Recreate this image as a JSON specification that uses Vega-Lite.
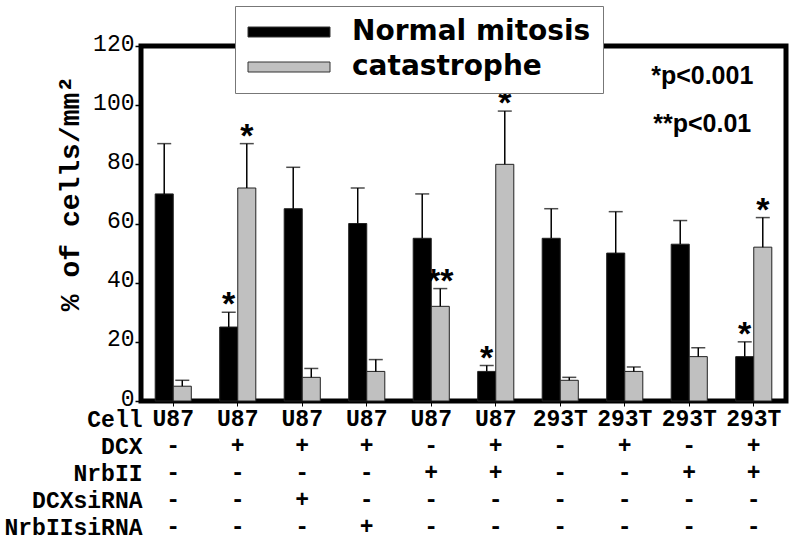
{
  "$schema": "https://vega.github.io/schema/vega-lite/v6.json",
  "width": 645,
  "height": 355,
  "autosize": {"type": "none"},
  "padding": {"left": 141, "top": 46, "right": 14, "bottom": 139},
  "background": "white",
  "config": {
    "view": {"stroke": "black", "strokeWidth": 5},
    "axis": {"grid": false}
  },
  "datasets": {
    "bars": [
      {"grp": 1, "series": "Normal mitosis", "value": 70, "hi": 87, "star": ""},
      {"grp": 1, "series": "catastrophe", "value": 5, "hi": 7, "star": ""},
      {"grp": 2, "series": "Normal mitosis", "value": 25, "hi": 30, "star": "*"},
      {"grp": 2, "series": "catastrophe", "value": 72, "hi": 87, "star": "*"},
      {"grp": 3, "series": "Normal mitosis", "value": 65, "hi": 79, "star": ""},
      {"grp": 3, "series": "catastrophe", "value": 8, "hi": 11, "star": ""},
      {"grp": 4, "series": "Normal mitosis", "value": 60, "hi": 72, "star": ""},
      {"grp": 4, "series": "catastrophe", "value": 10, "hi": 14, "star": ""},
      {"grp": 5, "series": "Normal mitosis", "value": 55, "hi": 70, "star": ""},
      {"grp": 5, "series": "catastrophe", "value": 32, "hi": 38, "star": "**"},
      {"grp": 6, "series": "Normal mitosis", "value": 10, "hi": 12, "star": "*"},
      {"grp": 6, "series": "catastrophe", "value": 80, "hi": 98, "star": "*"},
      {"grp": 7, "series": "Normal mitosis", "value": 55, "hi": 65, "star": ""},
      {"grp": 7, "series": "catastrophe", "value": 7, "hi": 8, "star": ""},
      {"grp": 8, "series": "Normal mitosis", "value": 50, "hi": 64, "star": ""},
      {"grp": 8, "series": "catastrophe", "value": 10, "hi": 11.5, "star": ""},
      {"grp": 9, "series": "Normal mitosis", "value": 53, "hi": 61, "star": ""},
      {"grp": 9, "series": "catastrophe", "value": 15, "hi": 18, "star": ""},
      {"grp": 10, "series": "Normal mitosis", "value": 15, "hi": 20, "star": "*"},
      {"grp": 10, "series": "catastrophe", "value": 52, "hi": 62, "star": "*"}
    ],
    "notes": [
      {"grp": 9, "y": 110, "label": "*p<0.001"},
      {"grp": 9, "y": 93.5, "label": "**p<0.01"}
    ],
    "table": [
      {"grp": 1, "row": "Cell", "t": "U87"}, {"grp": 2, "row": "Cell", "t": "U87"},
      {"grp": 3, "row": "Cell", "t": "U87"}, {"grp": 4, "row": "Cell", "t": "U87"},
      {"grp": 5, "row": "Cell", "t": "U87"}, {"grp": 6, "row": "Cell", "t": "U87"},
      {"grp": 7, "row": "Cell", "t": "293T"}, {"grp": 8, "row": "Cell", "t": "293T"},
      {"grp": 9, "row": "Cell", "t": "293T"}, {"grp": 10, "row": "Cell", "t": "293T"},
      {"grp": 1, "row": "DCX", "t": "-"}, {"grp": 2, "row": "DCX", "t": "+"},
      {"grp": 3, "row": "DCX", "t": "+"}, {"grp": 4, "row": "DCX", "t": "+"},
      {"grp": 5, "row": "DCX", "t": "-"}, {"grp": 6, "row": "DCX", "t": "+"},
      {"grp": 7, "row": "DCX", "t": "-"}, {"grp": 8, "row": "DCX", "t": "+"},
      {"grp": 9, "row": "DCX", "t": "-"}, {"grp": 10, "row": "DCX", "t": "+"},
      {"grp": 1, "row": "NrbII", "t": "-"}, {"grp": 2, "row": "NrbII", "t": "-"},
      {"grp": 3, "row": "NrbII", "t": "-"}, {"grp": 4, "row": "NrbII", "t": "-"},
      {"grp": 5, "row": "NrbII", "t": "+"}, {"grp": 6, "row": "NrbII", "t": "+"},
      {"grp": 7, "row": "NrbII", "t": "-"}, {"grp": 8, "row": "NrbII", "t": "-"},
      {"grp": 9, "row": "NrbII", "t": "+"}, {"grp": 10, "row": "NrbII", "t": "+"},
      {"grp": 1, "row": "DCXsiRNA", "t": "-"}, {"grp": 2, "row": "DCXsiRNA", "t": "-"},
      {"grp": 3, "row": "DCXsiRNA", "t": "+"}, {"grp": 4, "row": "DCXsiRNA", "t": "-"},
      {"grp": 5, "row": "DCXsiRNA", "t": "-"}, {"grp": 6, "row": "DCXsiRNA", "t": "-"},
      {"grp": 7, "row": "DCXsiRNA", "t": "-"}, {"grp": 8, "row": "DCXsiRNA", "t": "-"},
      {"grp": 9, "row": "DCXsiRNA", "t": "-"}, {"grp": 10, "row": "DCXsiRNA", "t": "-"},
      {"grp": 1, "row": "NrbIIsiRNA", "t": "-"}, {"grp": 2, "row": "NrbIIsiRNA", "t": "-"},
      {"grp": 3, "row": "NrbIIsiRNA", "t": "-"}, {"grp": 4, "row": "NrbIIsiRNA", "t": "+"},
      {"grp": 5, "row": "NrbIIsiRNA", "t": "-"}, {"grp": 6, "row": "NrbIIsiRNA", "t": "-"},
      {"grp": 7, "row": "NrbIIsiRNA", "t": "-"}, {"grp": 8, "row": "NrbIIsiRNA", "t": "-"},
      {"grp": 9, "row": "NrbIIsiRNA", "t": "-"}, {"grp": 10, "row": "NrbIIsiRNA", "t": "-"}
    ]
  },
  "encoding": {
    "x": {
      "field": "grp", "type": "ordinal",
      "scale": {"paddingInner": 0.44, "paddingOuter": 0.22},
      "axis": {"labels": false, "domain": false, "ticks": true, "tickSize": 5, "tickColor": "black", "tickWidth": 1, "title": null}
    }
  },
  "layer": [
    {
      "data": {"name": "bars"},
      "encoding": {
        "xOffset": {"field": "series", "type": "nominal", "sort": ["Normal mitosis", "catastrophe"], "scale": {"paddingInner": 0, "paddingOuter": 0}}
      },
      "layer": [
        {
          "mark": {"type": "bar", "stroke": "#222", "strokeWidth": 1},
          "encoding": {
            "y": {
              "field": "value", "type": "quantitative",
              "scale": {"domain": [0, 120], "nice": false},
              "axis": {
                "values": [0, 20, 40, 60, 80, 100, 120],
                "domain": false, "tickSize": 6, "tickWidth": 1.5, "tickColor": "black",
                "labelFont": "Liberation Mono", "labelFontSize": 23, "labelColor": "black", "labelPadding": 1, "labelOffset": -3,
                "title": "% of  cells/mm²", "titleFont": "Liberation Mono", "titleFontSize": 28,
                "titleFontWeight": "bold", "titleColor": "black",
                "titleX": -71, "titleY": 147, "titleAngle": -90, "titleAlign": "center", "titleBaseline": "middle"
              }
            },
            "color": {
              "field": "series", "type": "nominal",
              "scale": {"domain": ["Normal mitosis", "catastrophe"], "range": ["black", "#c0c0c0"]},
              "legend": {
                "title": null, "orient": "none", "legendX": 94, "legendY": -40,
                "fillColor": "white", "strokeColor": "#777", "padding": 12,
                "symbolType": "M-2.6,-1H13.8V1H-2.6Z", "symbolSize": 100,
                "symbolStrokeColor": "#333", "symbolStrokeWidth": 1,
                "labelOffset": 77, "labelFont": "DejaVu Sans", "labelFontSize": 28,
                "labelFontWeight": "bold", "labelColor": "black", "labelLimit": 0,
                "rowPadding": 7
              }
            }
          }
        },
        {
          "mark": {"type": "rule", "color": "black", "strokeWidth": 1.5},
          "encoding": {
            "y": {"field": "value", "type": "quantitative"},
            "y2": {"field": "hi"}
          }
        },
        {
          "mark": {"type": "tick", "color": "black", "thickness": 1.5, "size": 14},
          "encoding": {
            "y": {"field": "hi", "type": "quantitative"}
          }
        },
        {
          "transform": [{"filter": "datum.star != ''"}],
          "mark": {"type": "text", "font": "Liberation Sans", "fontWeight": "bold", "fontSize": 34, "baseline": "alphabetic", "align": "center", "dy": 3, "color": "black"},
          "encoding": {
            "y": {"field": "hi", "type": "quantitative"},
            "text": {"field": "star"}
          }
        }
      ]
    },
    {
      "data": {"name": "notes"},
      "mark": {"type": "text", "font": "Liberation Sans", "fontWeight": "bold", "fontSize": 25, "align": "center", "baseline": "middle", "dx": 13, "color": "black"},
      "encoding": {
        "y": {"field": "y", "type": "quantitative", "scale": {"domain": [0, 120], "nice": false}, "axis": null},
        "text": {"field": "label"}
      }
    },
    {
      "data": {"name": "table"},
      "mark": {"type": "text", "font": "Liberation Mono", "fontWeight": "bold", "fontSize": 23, "align": "center", "baseline": "middle", "color": "black"},
      "encoding": {
        "y": {
          "field": "row", "type": "nominal",
          "sort": ["Cell", "DCX", "NrbII", "DCXsiRNA", "NrbIIsiRNA"],
          "scale": {"type": "point", "range": [373, 481], "padding": 0},
          "axis": {"orient": "left", "domain": false, "ticks": false, "tickSize": 0, "labelPadding": -1, "labelFont": "Liberation Mono", "labelFontWeight": "bold", "labelFontSize": 23, "labelColor": "black", "labelAlign": "right", "labelBaseline": "middle", "title": null}
        },
        "text": {"field": "t"}
      }
    }
  ],
  "resolve": {"scale": {"y": "independent"}}
}
